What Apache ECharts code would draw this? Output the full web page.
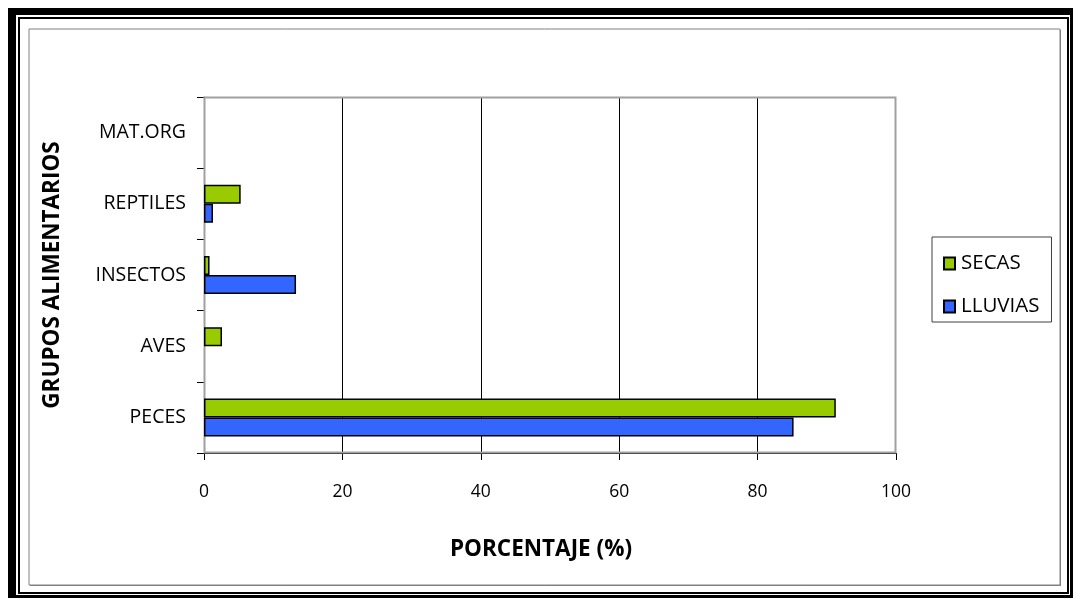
<html>
<head>
<meta charset="utf-8"/>
<title>Grupos alimentarios</title>
<script src="https://cdn.jsdelivr.net/npm/echarts@6/dist/echarts.min.js"></script>
<style>
  body { margin: 0; background: #fff; }
  #main { width: 1074px; height: 599px; }
</style>
</head>
<body>
<div id="main"></div>
<script type="text/javascript">
    var categories = ['PECES', 'AVES', 'INSECTOS', 'REPTILES', 'MAT.ORG'];
    var secas = [91.3, 2.6, 0.8, 5.3, 0];
    var lluvias = [85.2, 0, 13.3, 1.3, 0];
    var xTicks = [0, 20, 40, 60, 80, 100];

    var font = '"Open Sans", Lato, sans-serif';
    var myChart = echarts.init(document.getElementById('main'));

    // zero values get no outline, like the original
    function bars(arr) {
        return arr.map(function (v) {
            return v === 0 ? { value: v, itemStyle: { borderWidth: 0, opacity: 0 } } : v;
        });
    }

    var option = {
        backgroundColor: '#fff',
        animation: false,
        textStyle: { fontFamily: font },
        graphic: [
            // outer frame
            { type: 'rect', shape: { x: 8, y: 8, width: 1065, height: 590 }, style: { fill: '#000' }, z: -10 },
            { type: 'rect', shape: { x: 16, y: 15, width: 1054, height: 580 }, style: { fill: '#fff' }, z: -9 },
            { type: 'rect', shape: { x: 19, y: 18, width: 1049, height: 575 }, style: { fill: '#fff', stroke: '#000', lineWidth: 2 }, z: -8 },
            // chart area border
            { type: 'rect', shape: { x: 30, y: 30, width: 1031, height: 556 }, style: { fill: '#808080' }, z: -7 },
            { type: 'rect', shape: { x: 29, y: 29, width: 1031, height: 556 }, style: { fill: '#fff', stroke: '#808080', lineWidth: 1 }, z: -6 },
            // plot area border
            { type: 'rect', shape: { x: 204.5, y: 97.5, width: 691, height: 355 }, style: { fill: 'none', stroke: '#a0a0a0', lineWidth: 2 }, z: 1 },
            {
                type: 'text', x: 541, y: 550,
                style: { text: 'PORCENTAJE (%)', font: 'bold 22.5px ' + font, fill: '#000', align: 'center', verticalAlign: 'middle' }
            }
        ],
        legend: {
            orient: 'vertical',
            left: 932, top: 237,
            padding: [16, 12, 5, 11],
            borderColor: '#404040',
            borderWidth: 1,
            itemGap: 22,
            itemWidth: 11, itemHeight: 12,
            icon: 'rect',
            data: ['SECAS', 'LLUVIAS'],
            textStyle: { fontSize: 20.5, color: '#000', fontFamily: font, padding: [0, 0, 0, 1] }
        },
        grid: { left: 204, top: 97, right: 178, bottom: 146, containLabel: false },
        xAxis: {
            type: 'value',
            min: 0, max: 100, interval: 20,
            axisLine: { show: true, lineStyle: { color: '#000', width: 1 } },
            axisTick: { show: true, length: 7, lineStyle: { color: '#000' } },
            axisLabel: { margin: 30, fontSize: 17.5, color: '#000',
                formatter: function (v) { return xTicks.indexOf(v) >= 0 ? String(v) : ''; } },
            splitLine: { show: true, showMinLine: false, showMaxLine: false, lineStyle: { color: '#000', width: 1 } }
        },
        yAxis: {
            type: 'category',
            data: categories,
            name: 'GRUPOS ALIMENTARIOS',
            nameLocation: 'middle',
            nameGap: 140,
            nameRotate: 90,
            nameTextStyle: { fontWeight: 'bold', fontSize: 22.5, color: '#000', fontFamily: font },
            axisLine: { show: true, lineStyle: { color: '#404040', width: 1 } },
            axisTick: { show: true, length: 7, lineStyle: { color: '#000' } },
            axisLabel: { margin: 18, fontSize: 19.5, color: '#000', padding: [0, 0, 7, 0] }
        },
        series: [
            {
                name: 'SECAS', type: 'bar', data: bars(secas),
                barWidth: 19, barGap: '0%',
                itemStyle: { color: '#99CC00', borderColor: '#000', borderWidth: 1.5 }
            },
            {
                name: 'LLUVIAS', type: 'bar', data: bars(lluvias),
                barWidth: 19, barGap: '0%',
                itemStyle: { color: '#3366FF', borderColor: '#000', borderWidth: 1.5 }
            }
        ]
    };

    myChart.setOption(option);
</script>
</body>
</html>
